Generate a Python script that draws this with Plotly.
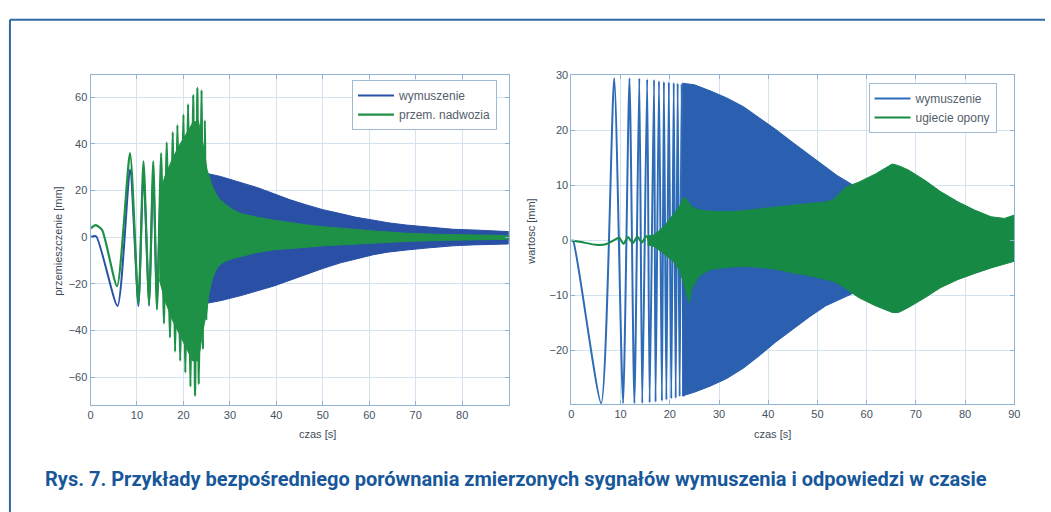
import plotly.graph_objects as go

# ---------------- left panel: wymuszenie / przem. nadwozia ----------------
# individual oscillation extremes (time [s], value [mm])
left_exc_t = [0, 1.2, 5.8, 8.5, 10.3, 11.4, 12.6, 13.5, 14.3, 15.2, 15.8, 16.4, 17.1, 17.7,
              18.2, 18.7, 19.3, 20.0, 20.4, 21.0, 21.5, 22.1, 22.5, 23.0, 23.3, 23.9, 24.2, 24.6]
left_exc_v = [0, 0.4, -29.5, 29, -29.5, 29, -29.5, 29, -29.5, 29, -29.5, 29, -29.5, 29,
              -29.5, 29, -29.5, 29, -29.5, 29, -29, 28.5, -28.5, 28, -28.5, 28, -28, 27.5]

left_resp_t = [0, 1.1, 2.5, 5.7, 8.5, 10.3, 11.4, 12.6, 13.5, 14.3, 15.2, 15.8, 16.4, 17.1,
               17.7, 18.2, 18.7, 19.3, 20.0, 20.4, 21.0, 21.5, 22.1, 22.5, 23.0, 23.3, 23.9,
               24.2, 24.6, 24.9, 25.3]
left_resp_v = [3.8, 5.2, 3.0, -21, 36, -28.5, 32.5, -28.5, 32.5, -31, 36, -37, 40.6, -43,
               45, -49, 48, -53, 52.5, -58, 57, -64, 61, -68, 64, -63, 63,
               -48, 50, -35, 27]

# solid core of the response while the oscillations crowd together
left_core_t = [14.8, 16.0, 17.5, 19.0, 20.5, 22.0, 23.2, 24.2, 25.0]
left_core_up = [18, 26, 33, 39, 44, 49, 50, 40, 30]
left_core_lo = [-18, -27, -35, -41, -47, -53, -53, -40, -32]

# envelopes of the dense (unresolved) part of the signals
left_exc_env_t = [24.5, 25.3, 28, 32.4, 36, 39.5, 43, 46.7, 50, 53.8, 57, 60.9, 64, 68,
                  72, 75.1, 78, 82.3, 86, 90]
left_exc_up = [28, 27.2, 26, 23.5, 21.2, 18.6, 16, 13.7, 11.8, 10.1, 8.6, 7.3, 6.2, 5.2,
               4.4, 3.8, 3.4, 3.1, 2.7, 2.4]
left_exc_lo = [-28.5, -28.2, -27.2, -25, -23, -20.9, -18.4, -15.9, -13.4, -11, -9.3, -7.5,
               -6.4, -5.5, -4.7, -4.1, -3.7, -3.3, -3.0, -2.9]

left_resp_env_t = [24.9, 25.5, 26.2, 26.9, 27.7, 28.8, 30.5, 32.4, 36, 39.5, 43, 46.7, 50,
                   53.8, 57, 60.9, 65, 68, 75, 82, 90]
left_resp_up = [30, 26, 22, 19, 16.5, 14.4, 12, 10.1, 8.5, 7.3, 6.2, 5.2, 4.5,
                3.8, 3.2, 2.7, 2.1, 1.7, 1.2, 0.9, 0.7]
left_resp_lo = [-34, -24, -18, -14.5, -12, -10.5, -9.2, -8.2, -6.5, -5.4, -4.8, -4.3, -3.7,
                -3.2, -2.8, -2.5, -2.1, -1.8, -1.4, -1.1, -0.9]

# ---------------- right panel: wymuszenie / ugiecie opony ----------------
right_exc_t = [0, 0.4, 6.05, 8.7, 10.5, 11.8, 12.8, 13.8, 14.4, 15.4, 15.9, 16.8, 17.1, 17.8,
               18.4, 18.8, 19.3, 19.8, 20.3, 20.8, 21.2, 21.6, 22.0, 22.4, 22.8, 23.1]
right_exc_v = [0, -0.2, -29.6, 29.5, -29.6, 29.5, -29.6, 29.5, -29.6, 29.3, -29.5, 29.2, -29.4,
               29.0, -29.2, 28.9, -29.0, 28.8, -28.8, 28.7, -28.7, 28.6, -28.4, 28.5, -28.2, 28.4]

right_resp_t = [0, 2.0, 5.0, 7.0, 8.4, 9.7, 10.6, 11.5, 12.5, 13.4, 14.3, 15.2, 16.0]
right_resp_v = [0, -0.3, -0.8, -0.7, -0.1, 0.5, -0.6, 0.6, -0.5, 0.7, -0.4, 0.8, -0.6]

right_exc_env_t = [22.5, 25, 28.2, 31.6, 35, 38.3, 41.5, 45, 48.4, 51.7, 54, 56.8, 60, 64,
                   70, 75, 80, 85, 90]
right_exc_up = [28.6, 28.3, 27.2, 25.9, 24.3, 22.3, 20.2, 17.8, 15.5, 13.3, 11.8, 10.3, 8.6,
                7.2, 5.6, 4.8, 4.2, 3.8, 3.5]
right_exc_lo = [-28.3, -27.6, -26.5, -25.1, -23.2, -20.9, -18.5, -16.1, -13.9, -11.9, -10.9,
                -9.8, -8.3, -7.0, -5.4, -4.6, -4.0, -3.7, -3.5]

right_resp_env_t = [15.5, 16.8, 18.8, 20.8, 22.0, 22.9, 23.5, 23.9, 24.5, 25.5, 26.2, 28.2,
                    31.6, 34.9, 38.3, 42, 45, 48.4, 51.7, 53.1, 54.5, 55.8, 58.4, 61.8, 65.2,
                    66.5, 68.5, 71.9, 75, 78.6, 82, 85.3, 88, 90]
right_resp_up = [0.8, 1.0, 2.5, 4.9, 6.2, 7.9, 7.4, 6.8, 6.1, 5.7, 5.5, 5.3,
                 5.2, 5.4, 5.8, 6.1, 6.4, 6.7, 7.0, 7.3, 8.6, 9.7, 10.6, 12.1, 13.9,
                 13.6, 12.8, 10.9, 8.9, 7.0, 5.5, 4.3, 4.0, 4.6]
right_resp_lo = [-0.8, -1.1, -2.4, -3.9, -5.5, -8.0, -10.2, -11.3, -8.8, -7.1, -6.3, -5.3,
                 -4.9, -4.7, -4.9, -5.3, -5.9, -6.4, -7.1, -7.4, -8.0, -8.9, -10.4, -11.9, -13.1,
                 -13.1, -12.2, -10.4, -8.6, -7.1, -6.0, -5.0, -4.3, -3.8]

# ---------------- ticks ----------------
left_xticks = [0, 10, 20, 30, 40, 50, 60, 70, 80]
left_yticks = [-60, -40, -20, 0, 20, 40, 60]
right_xticks = [0, 10, 20, 30, 40, 50, 60, 70, 80, 90]
right_yticks = [-20, -10, 0, 10, 20, 30]

BLUE_L = "#2a50a6"
GREEN_L = "#1f9147"
BLUE_R = "#2b5fb0"
BLUE_R_LINE = "#2f6cb8"
GREEN_R = "#168a45"
W, H = 1051, 512
FONT = "Liberation Sans, Arial, sans-serif"


def band(t, up, lo):
    return list(t) + list(t)[::-1], list(up) + list(lo)[::-1]


def add_band(t, up, lo, color, xa, ya):
    bx, by = band(t, up, lo)
    fig.add_trace(go.Scatter(x=bx, y=by, mode="lines", fill="toself", fillcolor=color,
                             line=dict(color=color, width=1), showlegend=False,
                             xaxis=xa, yaxis=ya, hoverinfo="skip"))


fig = go.Figure()

# left panel
fig.add_trace(go.Scatter(x=left_exc_t, y=left_exc_v, mode="lines", name="wymuszenie",
                         line=dict(color=BLUE_L, width=2, shape="spline", smoothing=0.6),
                         xaxis="x", yaxis="y", legend="legend"))
add_band(left_exc_env_t, left_exc_up, left_exc_lo, BLUE_L, "x", "y")
add_band(left_core_t, left_core_up, left_core_lo, GREEN_L, "x", "y")
fig.add_trace(go.Scatter(x=left_resp_t, y=left_resp_v, mode="lines", name="przem. nadwozia",
                         line=dict(color=GREEN_L, width=2.2, shape="spline", smoothing=0.6),
                         xaxis="x", yaxis="y", legend="legend"))
add_band(left_resp_env_t, left_resp_up, left_resp_lo, GREEN_L, "x", "y")

# right panel
fig.add_trace(go.Scatter(x=right_exc_t, y=right_exc_v, mode="lines", name="wymuszenie",
                         line=dict(color=BLUE_R_LINE, width=2, shape="spline", smoothing=0.6),
                         xaxis="x2", yaxis="y2", legend="legend2"))
add_band(right_exc_env_t, right_exc_up, right_exc_lo, BLUE_R, "x2", "y2")
fig.add_trace(go.Scatter(x=right_resp_t, y=right_resp_v, mode="lines", name="ugiecie opony",
                         line=dict(color=GREEN_R, width=2, shape="spline", smoothing=0.6),
                         xaxis="x2", yaxis="y2", legend="legend2"))
add_band(right_resp_env_t, right_resp_up, right_resp_lo, GREEN_R, "x2", "y2")

TICK_FONT = dict(family=FONT, size=11, color="#45525f")
AX_COMMON = dict(showline=True, linecolor="#8fb3d3", linewidth=1, mirror="ticks",
                 ticks="inside", ticklen=4, tickcolor="#8fb3d3", showgrid=True,
                 gridcolor="#d3e3f0", gridwidth=1, zeroline=False, tickfont=TICK_FONT,
                 fixedrange=True)


def px_x(p):
    return p / W


def px_y(p):
    return 1 - p / H


LEGEND_COMMON = dict(xanchor="left", yanchor="top", bgcolor="white", bordercolor="#9fbad2",
                     borderwidth=1, font=dict(family=FONT, size=12, color="#55606b"),
                     itemwidth=36, tracegroupgap=0)

fig.update_layout(
    width=W, height=H, margin=dict(l=0, r=0, t=0, b=0),
    paper_bgcolor="white", plot_bgcolor="white",
    xaxis=dict(domain=[px_x(88.3), px_x(510)], range=[0, 90], tickvals=left_xticks,
               anchor="y", **AX_COMMON),
    yaxis=dict(domain=[px_y(404), px_y(70)], range=[-72, 69.4], tickvals=left_yticks,
               anchor="x", **AX_COMMON),
    xaxis2=dict(domain=[px_x(573.3), px_x(1020)], range=[0, 90], tickvals=right_xticks,
                anchor="y2", **AX_COMMON),
    yaxis2=dict(domain=[px_y(403), px_y(70)], range=[-29.8, 30.05], tickvals=right_yticks,
                anchor="x2", **AX_COMMON),
    legend=dict(x=px_x(352), y=px_y(75), **LEGEND_COMMON),
    legend2=dict(x=px_x(873), y=px_y(78), **LEGEND_COMMON),
    showlegend=True,
)

# axis titles
LABEL_FONT = dict(family=FONT, size=11, color="#3e4b5a")
fig.add_annotation(x=px_x(297), y=px_y(433), xref="paper", yref="paper", text="czas [s]",
                   yanchor="middle", showarrow=False, font=LABEL_FONT)
fig.add_annotation(x=px_x(797), y=px_y(433), xref="paper", yref="paper", text="czas [s]",
                   yanchor="middle", showarrow=False, font=LABEL_FONT)
fig.add_annotation(x=px_x(48), y=px_y(238), xref="paper", yref="paper",
                   text="przemieszczenie [mm]", textangle=-90, showarrow=False, font=LABEL_FONT)
fig.add_annotation(x=px_x(533), y=px_y(228), xref="paper", yref="paper",
                   text="wartosc [mm]", textangle=-90, showarrow=False, font=LABEL_FONT)

# figure caption
fig.add_annotation(x=px_x(40), y=px_y(479), xref="paper", yref="paper", xanchor="left",
                   yanchor="middle", showarrow=False,
                   text="<b>Rys. 7. Przykłady bezpośredniego porównania zmierzonych sygnałów "
                        "wymuszenia i odpowiedzi w czasie</b>",
                   font=dict(family="Roboto, sans-serif", size=20, color="#17579a"))

# page frame (top and left rule)
fig.add_shape(type="line", xref="paper", yref="paper", x0=px_x(7), x1=1, y0=px_y(14), y1=px_y(14),
              line=dict(color="#2f6aa6", width=2))
fig.add_shape(type="line", xref="paper", yref="paper", x0=px_x(7), x1=px_x(7), y0=px_y(14), y1=0,
              line=dict(color="#2f6aa6", width=2))

fig.write_html("out.html")
